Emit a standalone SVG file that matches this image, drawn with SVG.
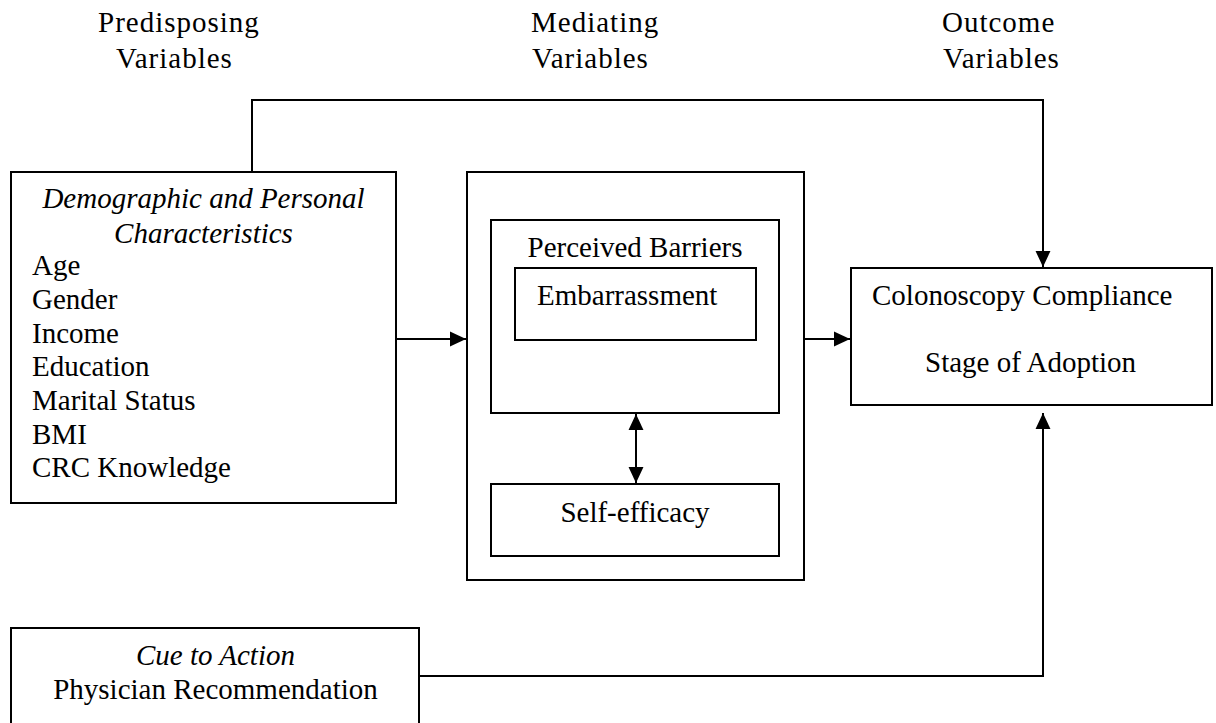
<svg xmlns="http://www.w3.org/2000/svg" width="1216" height="723" viewBox="0 0 1216 723">
<defs>
<marker id="ah" markerUnits="userSpaceOnUse" markerWidth="16" markerHeight="16" viewBox="0 0 15 14" refX="15" refY="7" orient="auto-start-reverse">
<path d="M0,0 L15,7 L0,14 z" fill="#000"/>
</marker>
</defs>
<rect width="1216" height="723" fill="#fff"/>
<g id="headers">
<text font-family="Liberation Serif" font-size="29" letter-spacing="1" x="98" y="32">Predisposing</text>
<text font-family="Liberation Serif" font-size="29" letter-spacing="1" x="116" y="68">Variables</text>
<text font-family="Liberation Serif" font-size="29" letter-spacing="1" x="531" y="32">Mediating</text>
<text font-family="Liberation Serif" font-size="29" letter-spacing="1" x="532" y="68">Variables</text>
<text font-family="Liberation Serif" font-size="29" letter-spacing="1" x="942" y="32">Outcome</text>
<text font-family="Liberation Serif" font-size="29" letter-spacing="1" x="943" y="68">Variables</text>
</g>
<g id="demographic">
<rect fill="#fff" stroke="#000" stroke-width="2" x="11" y="172" width="385" height="331"/>
<text font-family="Liberation Serif" font-size="29" font-style="italic" text-anchor="middle" x="203.5" y="208">Demographic and Personal</text>
<text font-family="Liberation Serif" font-size="29" font-style="italic" text-anchor="middle" x="203.5" y="243">Characteristics</text>
<text font-family="Liberation Serif" font-size="29" x="32" y="275">Age</text>
<text font-family="Liberation Serif" font-size="29" x="32" y="309">Gender</text>
<text font-family="Liberation Serif" font-size="29" x="32" y="343">Income</text>
<text font-family="Liberation Serif" font-size="29" x="32" y="376">Education</text>
<text font-family="Liberation Serif" font-size="29" x="32" y="410">Marital Status</text>
<text font-family="Liberation Serif" font-size="29" x="32" y="444">BMI</text>
<text font-family="Liberation Serif" font-size="29" x="32" y="477">CRC Knowledge</text>
</g>
<g id="mediating">
<rect fill="#fff" stroke="#000" stroke-width="2" x="467" y="172" width="337" height="408"/>
</g>
<g id="perceived-barriers">
<rect fill="#fff" stroke="#000" stroke-width="2" x="491" y="220" width="288" height="193"/>
<text font-family="Liberation Serif" font-size="29" text-anchor="middle" x="635" y="257">Perceived Barriers</text>
</g>
<g id="embarrassment">
<rect fill="#fff" stroke="#000" stroke-width="2" x="515" y="268" width="241" height="72"/>
<text font-family="Liberation Serif" font-size="29" x="537" y="305">Embarrassment</text>
</g>
<g id="self-efficacy">
<rect fill="#fff" stroke="#000" stroke-width="2" x="491" y="484" width="288" height="72"/>
<text font-family="Liberation Serif" font-size="29" text-anchor="middle" x="635" y="522">Self-efficacy</text>
</g>
<g id="outcome">
<rect fill="#fff" stroke="#000" stroke-width="2" x="851" y="268" width="361" height="137"/>
<text font-family="Liberation Serif" font-size="29" x="872" y="305">Colonoscopy Compliance</text>
<text font-family="Liberation Serif" font-size="29" x="925" y="372">Stage of Adoption</text>
</g>
<g id="cue">
<rect fill="#fff" stroke="#000" stroke-width="2" x="11" y="628" width="408" height="110"/>
<text font-family="Liberation Serif" font-size="29" font-style="italic" text-anchor="middle" x="215.5" y="665">Cue to Action</text>
<text font-family="Liberation Serif" font-size="29" text-anchor="middle" x="215.5" y="699">Physician Recommendation</text>
</g>
<g id="connectors" fill="none" stroke="#000" stroke-width="2">
<path d="M396,339 H466" marker-end="url(#ah)"/>
<path d="M804,339 H850" marker-end="url(#ah)"/>
<path d="M252,172 V100 H1043 V267" marker-end="url(#ah)"/>
<path d="M420,676 H1043 V413" marker-end="url(#ah)"/>
<path d="M636,414 V483" marker-start="url(#ah)" marker-end="url(#ah)"/>
</g>
</svg>
